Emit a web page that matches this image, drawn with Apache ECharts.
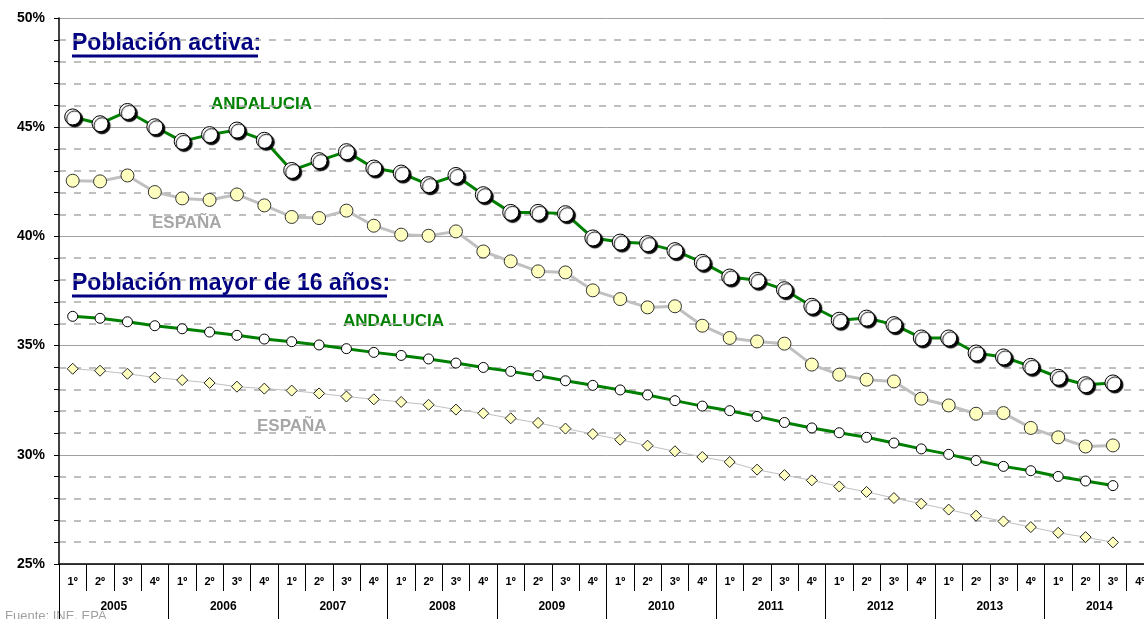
<!DOCTYPE html>
<html>
<head>
    <meta charset="utf-8">
    <title>Población activa</title>
    <script src="https://cdn.jsdelivr.net/npm/echarts@6/dist/echarts.min.js"></script>
    <style>
        html, body { margin: 0; padding: 0; overflow: hidden; background: #fff; }
    </style>
</head>
<body>
    <!-- el eje llega un poco más allá del borde derecho (4º trimestre de 2014 cortado) -->
    <div id="main" style="width: 1154px;height:619px;"></div>
    <script type="text/javascript">
var trimestres = [];
var anios = ['2005', '2006', '2007', '2008', '2009', '2010', '2011', '2012', '2013', '2014'];
for (var a = 0; a < anios.length; a++) {
    trimestres.push('1º', '2º', '3º', '4º');
}

// tasa de actividad (%), 2005 T1 .. 2014 T3
var activaAndalucia = [
    45.47, 45.16, 45.72, 45.02, 44.35, 44.66, 44.87, 44.40,
    43.02, 43.47, 43.88, 43.13, 42.90, 42.37, 42.79, 41.91,
    41.10, 41.10, 41.04, 39.93, 39.74, 39.67, 39.35, 38.81,
    38.14, 37.99, 37.56, 36.80, 36.16, 36.26, 35.96, 35.35,
    35.35, 34.66, 34.48, 34.05, 33.55, 33.21, 33.29
];
var activaEspana = [
    42.55, 42.52, 42.79, 42.03, 41.74, 41.67, 41.92, 41.42,
    40.89, 40.84, 41.18, 40.49, 40.08, 40.03, 40.23, 39.31,
    38.86, 38.40, 38.35, 37.53, 37.13, 36.75, 36.80, 35.91,
    35.35, 35.19, 35.09, 34.13, 33.67, 33.44, 33.36, 32.57,
    32.26, 31.88, 31.91, 31.23, 30.80, 30.38, 30.43
];
// población mayor de 16 años (%)
var mayor16Andalucia = [
    36.34, 36.25, 36.09, 35.91, 35.77, 35.62, 35.47, 35.30,
    35.18, 35.03, 34.86, 34.69, 34.55, 34.39, 34.20, 34.00,
    33.82, 33.62, 33.39, 33.18, 32.97, 32.74, 32.48, 32.23,
    32.02, 31.76, 31.48, 31.23, 31.01, 30.80, 30.54, 30.27,
    30.02, 29.74, 29.47, 29.27, 29.01, 28.80, 28.59
];
var mayor16Espana = [
    33.94, 33.85, 33.71, 33.54, 33.42, 33.29, 33.12, 33.03,
    32.94, 32.81, 32.67, 32.54, 32.42, 32.29, 32.07, 31.90,
    31.67, 31.46, 31.20, 30.95, 30.69, 30.42, 30.16, 29.90,
    29.67, 29.32, 29.07, 28.83, 28.55, 28.30, 28.02, 27.76,
    27.49, 27.21, 26.95, 26.69, 26.43, 26.23, 25.99
];

var verde = '#008000';
var gris = '#c0c0c0';
var azul = '#000080';
var fuente = 'Liberation Sans, Arial, sans-serif';

var myChart = echarts.init(document.getElementById('main'));

function rotulo(x, y, texto, color, size) {
    return {
        type: 'text', x: x, y: y,
        style: { text: texto, fill: color, font: 'bold ' + size + 'px ' + fuente, verticalAlign: 'middle' }
    };
}

var option = {
    animation: false,
    backgroundColor: '#fff',
    grid: { left: 59, right: 0, top: 18, bottom: 55 },
    xAxis: [{
        type: 'category',
        data: trimestres,
        boundaryGap: true,
        axisLine: { lineStyle: { color: '#000', width: 1.5 } },
        axisTick: { show: true, interval: 0, length: 27, lineStyle: { color: '#000', width: 1 } },
        axisLabel: { interval: 0, margin: 12, color: '#000', fontSize: 11, fontWeight: 'bold', fontFamily: fuente },
        splitLine: { show: false }
    }, {
        type: 'category',
        data: anios,
        position: 'bottom',
        boundaryGap: true,
        axisLine: { show: false },
        axisTick: { show: true, interval: 0, length: 60, lineStyle: { color: '#000', width: 1 } },
        axisLabel: { interval: 0, margin: 37, color: '#000', fontSize: 12, fontWeight: 'bold', fontFamily: fuente },
        splitLine: { show: false }
    }],
    yAxis: {
        type: 'value',
        min: 25,
        max: 50,
        interval: 5,
        axisLine: { show: true, lineStyle: { color: '#000', width: 1.5 } },
        axisTick: { show: true, length: 5, lineStyle: { color: '#000' } },
        minorTick: { show: true, splitNumber: 5, length: 5, lineStyle: { color: '#000' } },
        axisLabel: {
            margin: 14, color: '#000', fontSize: 14, fontWeight: 'bold', fontFamily: fuente,
            formatter: '{value}%'
        },
        splitLine: { show: true, lineStyle: { color: '#a0a0a0', width: 1 } },
        minorSplitLine: { show: true, lineStyle: { color: '#aaaaaa', width: 1.5, type: [7, 8] } }
    },
    series: [{
        name: 'España activa',
        type: 'line',
        data: activaEspana,
        symbol: 'circle',
        symbolSize: 13,
        lineStyle: { color: gris, width: 3 },
        itemStyle: { color: '#ffffc0', borderColor: '#333', borderWidth: 1 },
        z: 2
    }, {
        name: 'Andalucía activa',
        type: 'line',
        data: activaAndalucia,
        symbol: 'circle',
        symbolSize: 16,
        lineStyle: { color: verde, width: 3 },
        itemStyle: {
            color: '#fff', borderColor: '#000', borderWidth: 1,
            shadowColor: '#000', shadowBlur: 1, shadowOffsetX: 2, shadowOffsetY: 2
        },
        z: 3
    }, {
        name: 'España mayor 16',
        type: 'line',
        data: mayor16Espana,
        symbol: 'diamond',
        symbolSize: 11,
        lineStyle: { color: gris, width: 1 },
        itemStyle: { color: '#ffffc0', borderColor: '#222', borderWidth: 1 },
        z: 2
    }, {
        name: 'Andalucía mayor 16',
        type: 'line',
        data: mayor16Andalucia,
        symbol: 'circle',
        symbolSize: 10,
        lineStyle: { color: verde, width: 3 },
        itemStyle: { color: '#fff', borderColor: '#000', borderWidth: 1 },
        z: 3
    }],
    graphic: [
        rotulo(72, 44, 'Población activa:', azul, 23),
        { type: 'rect', shape: { x: 72, y: 54.5, width: 186, height: 3 }, style: { fill: azul } },
        rotulo(72, 284, 'Población mayor de 16 años:', azul, 23),
        { type: 'rect', shape: { x: 72, y: 294.5, width: 315, height: 3 }, style: { fill: azul } },
        rotulo(211, 104, 'ANDALUCIA', verde, 17),
        rotulo(152, 223, 'ESPAÑA', '#a6a6a6', 17),
        rotulo(343, 321, 'ANDALUCIA', verde, 17),
        rotulo(257, 426, 'ESPAÑA', '#a6a6a6', 17),
        {
            type: 'text', x: 5, y: 616,
            style: { text: 'Fuente: INE. EPA', fill: '#a0a0a0', font: '13px ' + fuente, verticalAlign: 'middle' }
        }
    ]
};

myChart.setOption(option);
    </script>
</body>
</html>
